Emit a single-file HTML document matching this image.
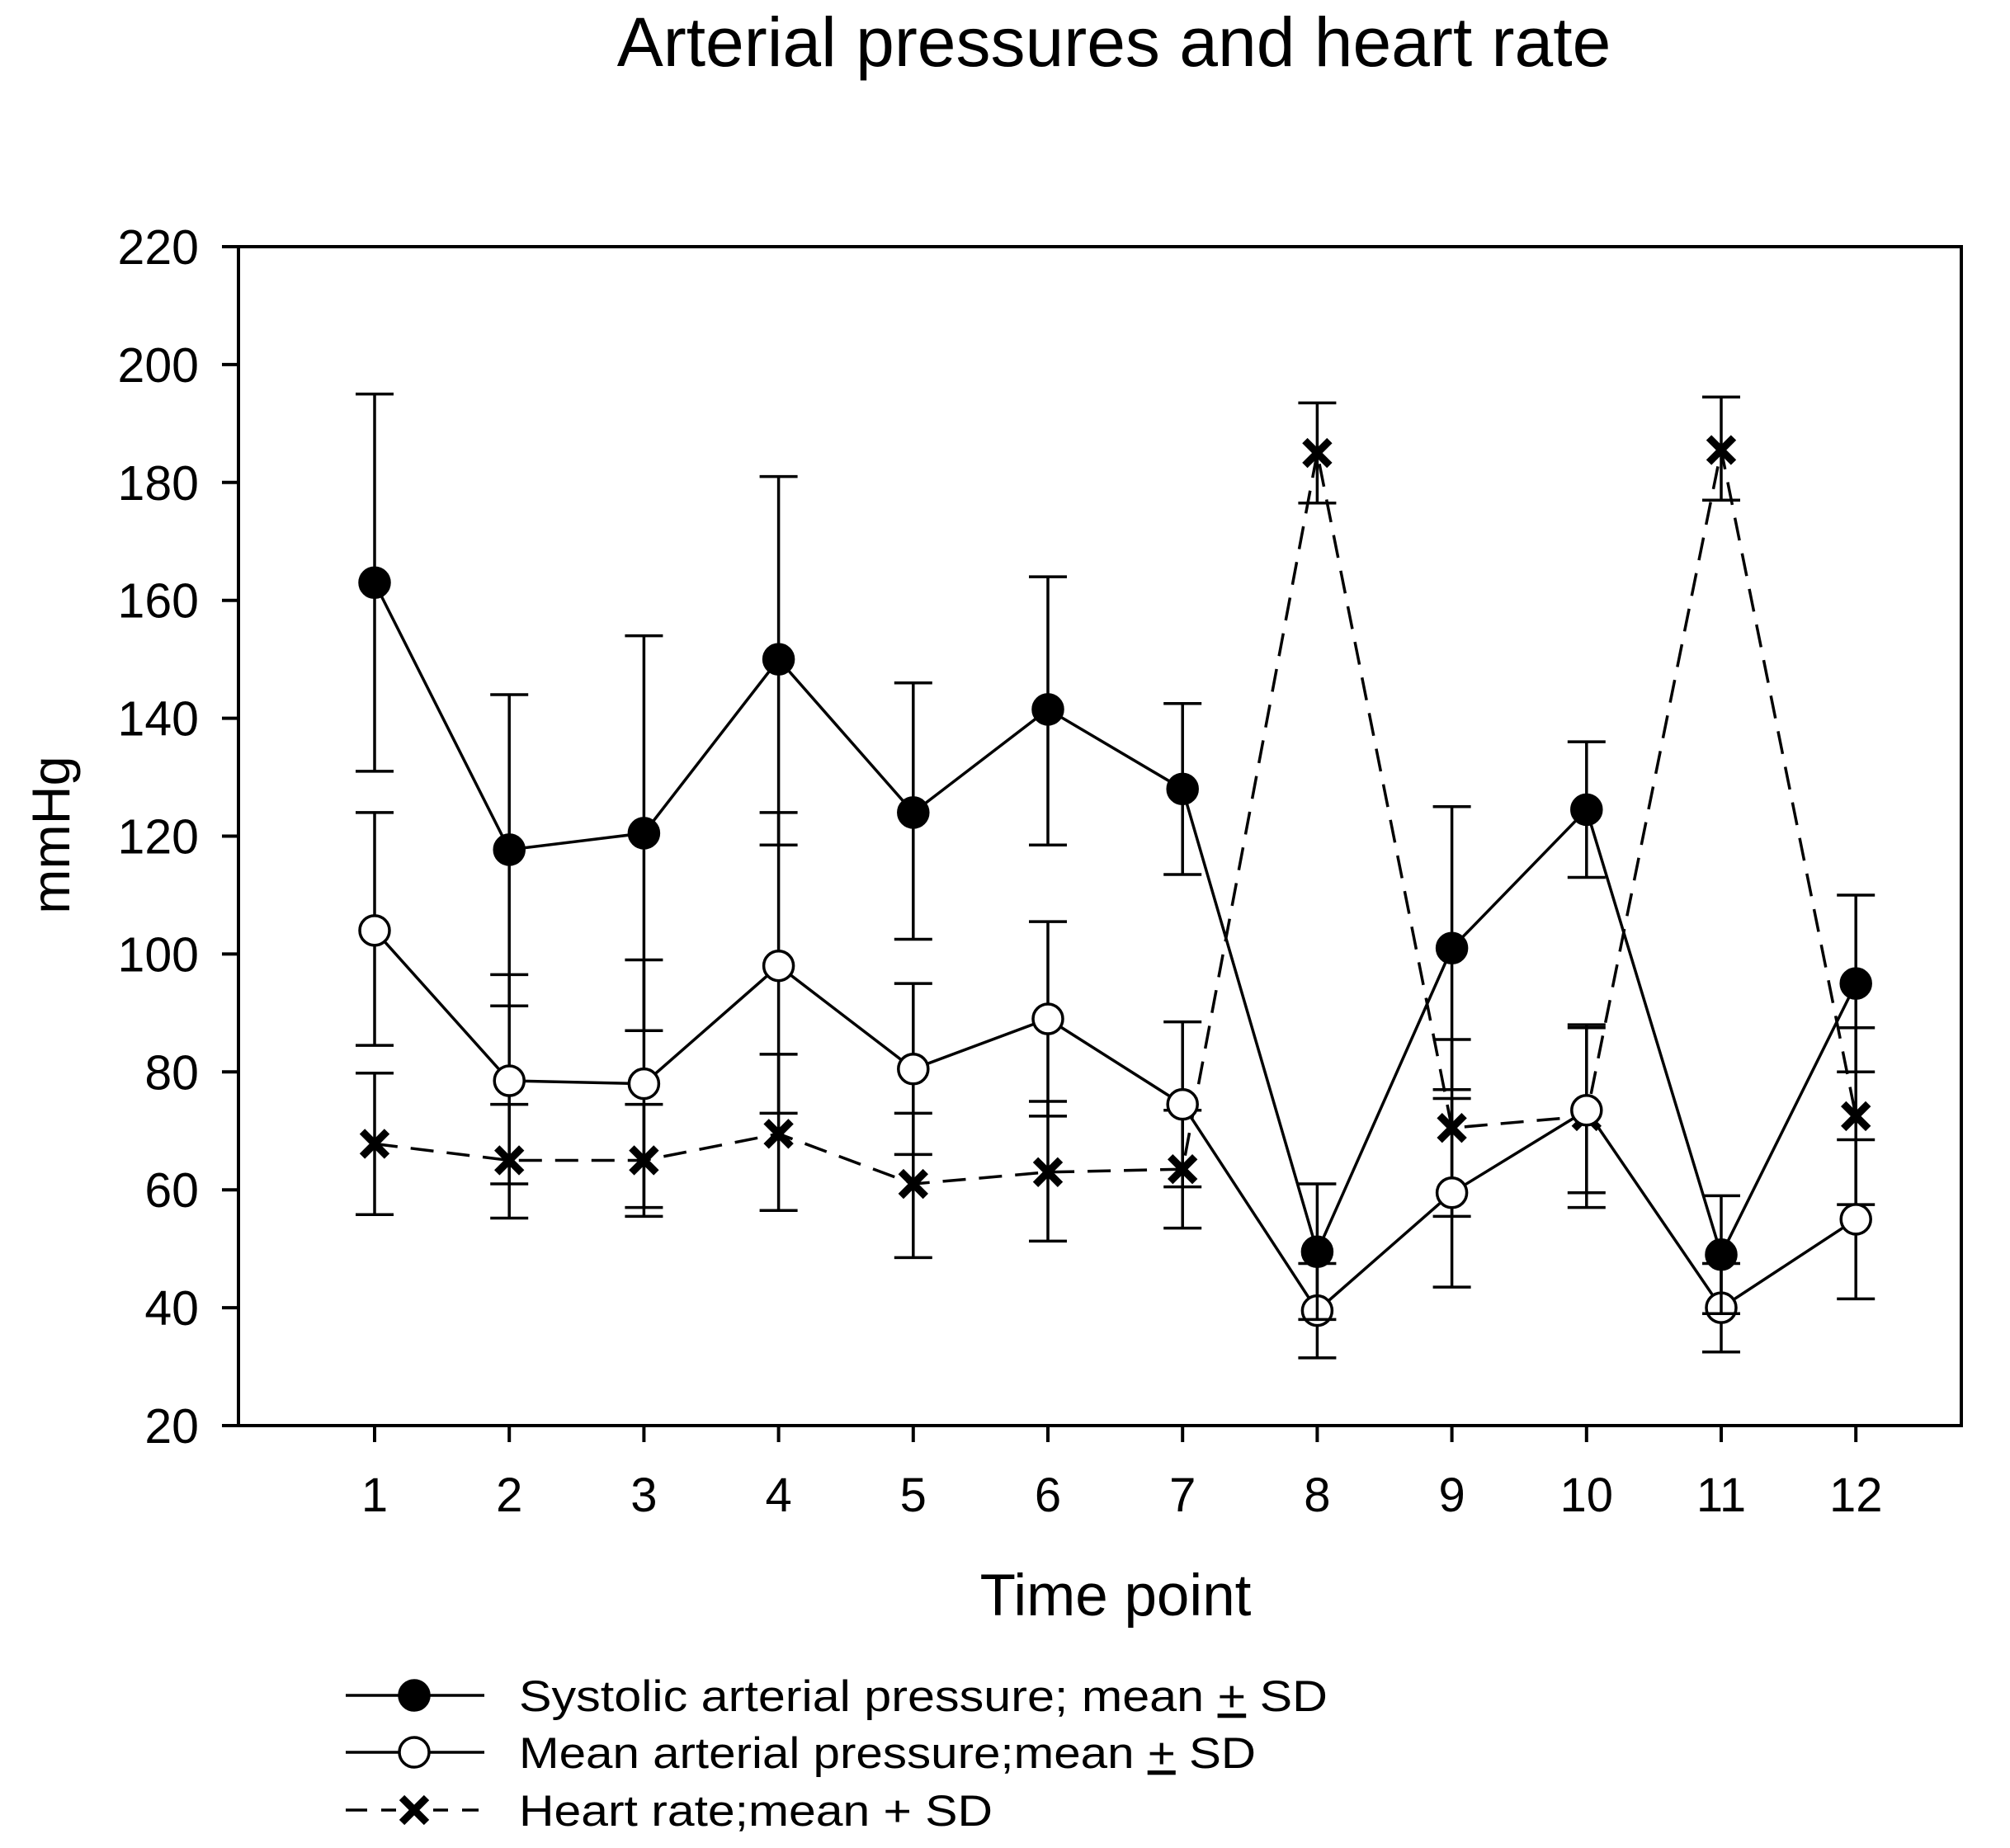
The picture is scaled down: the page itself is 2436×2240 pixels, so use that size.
<!DOCTYPE html>
<html><head><meta charset="utf-8"><style>
html,body{margin:0;padding:0;background:#fff;}
svg{display:block;}
text{font-family:"Liberation Sans",Arial,sans-serif;fill:#000;}
</style></head><body>
<svg id="chart" width="2436" height="2240" viewBox="0 0 2436 2240" xmlns="http://www.w3.org/2000/svg">
<rect x="0" y="0" width="2436" height="2240" fill="#fff"/>
<text x="1350" y="80" font-size="84" text-anchor="middle">Arterial pressures and heart rate</text>
<rect x="289" y="299" width="2088" height="1429" fill="none" stroke="#000" stroke-width="4"/>
<g id="axes"></g>
<g id="series"></g>
<text x="1352" y="1958" font-size="71" text-anchor="middle">Time point</text>
<text x="84" y="1012" font-size="65" text-anchor="middle" transform="rotate(-90 84 1012)">mmHg</text>
<g>
 <g>
  <line x1="419" y1="2055" x2="587" y2="2055" stroke="#000" stroke-width="3.5"/>
  <circle cx="502" cy="2055" r="18" fill="#000" stroke="#000" stroke-width="3.5"/>
  <text x="629" y="2074" font-size="53" textLength="980" lengthAdjust="spacingAndGlyphs">Systolic arterial pressure; mean <tspan text-decoration="underline">+</tspan> SD</text>
 </g>
 <g>
  <line x1="419" y1="2124" x2="587" y2="2124" stroke="#000" stroke-width="3.5"/>
  <circle cx="502" cy="2124" r="18" fill="#fff" stroke="#000" stroke-width="3.5"/>
  <text x="629" y="2143" font-size="53" textLength="893" lengthAdjust="spacingAndGlyphs">Mean arterial pressure;mean <tspan text-decoration="underline">+</tspan> SD</text>
 </g>
 <g>
  <path d="M419 2194 L445 2194 M462 2194 L480 2194 M525 2194 L543 2194 M560 2194 L580 2194" stroke="#000" stroke-width="3.5"/>
  <path d="M487 2179 L517 2209 M517 2179 L487 2209" stroke="#000" stroke-width="9"/>
  <text x="629" y="2213" font-size="53" textLength="574" lengthAdjust="spacingAndGlyphs">Heart rate;mean + SD</text>
 </g>
</g>
</svg>
<script>
const categories = [1,2,3,4,5,6,7,8,9,10,11,12];
const yTicks = [20,40,60,80,100,120,140,160,180,200,220];
const sysMean = [163,117.7,120.5,150,124,141.5,128,49.5,101,124.5,49,95];
const sysHi   = [195,144,154,181,146,164,142.5,61,125,136,59,110];
const sysLo   = [131,91.2,87,118.5,102.5,118.5,113.5,38,77,113,39,80];
const mapMean = [104,78.5,78,98,80.5,89,74.5,39.5,59.5,73.5,40,55];
const mapHi   = [124,96.5,99,124,95,105.5,88.5,47.5,75.5,87.5,47.5,68.5];
const mapLo   = [84.5,61,57,73,66,72.5,60.5,31.5,43.5,59.5,32.5,41.5];
const hrMean  = [67.8,65,65,69.5,61,63,63.5,185,70.5,72.5,185.5,72.5];
const hrHi    = [79.8,74.5,74.5,83,73,75,73.5,193.5,85.5,88,194.5,87.5];
const hrLo    = [55.8,55.2,55.5,56.5,48.5,51.3,53.5,176.5,55.5,57,177,57.5];

const NS='http://www.w3.org/2000/svg';
const X0=454, XSTEP=163.2, Y220=299, Y20=1728;
function xScale(c){return X0+(c-1)*XSTEP;}
function yScale(v){return Y20-(v-20)*(Y20-Y220)/200;}
function mk(tag,attrs,parent){const e=document.createElementNS(NS,tag);for(const k in attrs)e.setAttribute(k,attrs[k]);parent.appendChild(e);return e;}

const axes=document.getElementById('axes');
yTicks.forEach(t=>{
  const y=yScale(t);
  const tk=mk('line',{x1:269,y1:y,x2:289,y2:y,stroke:'#000','stroke-width':4},axes);
  
  
  const lb=mk('text',{x:241,y:y+21,'font-size':59,'text-anchor':'end'},axes);
  lb.textContent=t;
  
  
});
categories.forEach(c=>{
  const x=xScale(c);
  const tk=mk('line',{x1:x,y1:1728,x2:x,y2:1748,stroke:'#000','stroke-width':4},axes);
  
  
  const lb=mk('text',{x:x,y:1832,'font-size':58,'text-anchor':'middle'},axes);
  lb.textContent=c;
  
  
});

const ser=document.getElementById('series');
function drawSeries(name,mean,hi,lo,kind){
  const g=mk('g',{},ser);
  
  
  categories.forEach((c,i)=>{
    const x=xScale(c);
    const eb=mk('path',{d:`M${x} ${yScale(lo[i])} L${x} ${yScale(hi[i])} M${x-23} ${yScale(hi[i])} L${x+23} ${yScale(hi[i])} M${x-23} ${yScale(lo[i])} L${x+23} ${yScale(lo[i])}`,stroke:'#000','stroke-width':3.5,fill:'none'},g);
    
    
  });
  const pts=categories.map((c,i)=>xScale(c)+','+yScale(mean[i])).join(' ');
  const ln=mk('polyline',{points:pts,fill:'none',stroke:'#000','stroke-width':3.5},g);
  if(kind==='x') ln.setAttribute('stroke-dasharray','28,16');
  
  
  categories.forEach((c,i)=>{
    const x=xScale(c), y=yScale(mean[i]);
    let m;
    if(kind==='x'){
      m=mk('path',{d:`M${x-15} ${y-15} L${x+15} ${y+15} M${x+15} ${y-15} L${x-15} ${y+15}`,stroke:'#000','stroke-width':9},g);
    } else {
      m=mk('circle',{cx:x,cy:y,r:18,fill:kind==='filled'?'#000':'#fff',stroke:'#000','stroke-width':3.5},g);
    }
    
    
  });
}
drawSeries('heart-rate',hrMean,hrHi,hrLo,'x');
drawSeries('mean-arterial',mapMean,mapHi,mapLo,'open');
drawSeries('systolic',sysMean,sysHi,sysLo,'filled');
</script>
</body></html>
